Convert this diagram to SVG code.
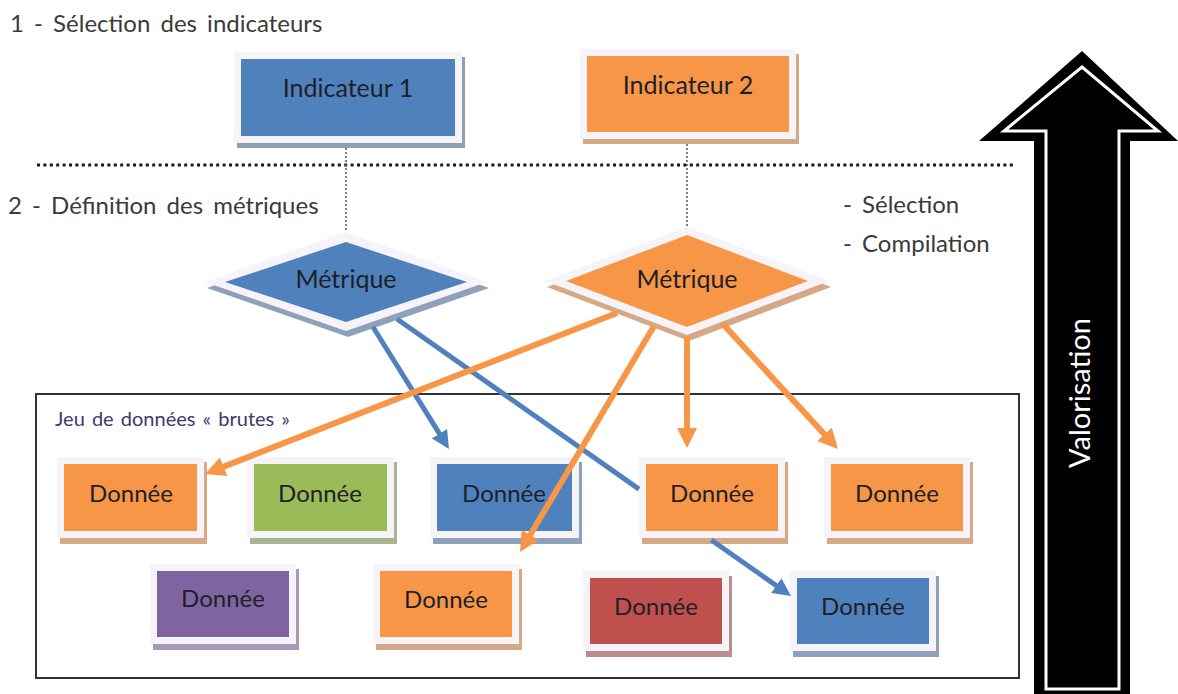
<svg xmlns="http://www.w3.org/2000/svg" width="1178" height="694" viewBox="0 0 1178 694">
  <defs>
    <style>
      .txt { font-family: Lato, "Open Sans", "Liberation Sans", sans-serif; }
      .head { font-size: 24px; fill: #3a3a3a; word-spacing: 4px; }
      .lbl { font-size: 25px; fill: #1f1f28; text-anchor: middle; }
      .dlbl { font-size: 24px; fill: #1f1f28; text-anchor: middle; }
      .frame { fill: #f7f4f9; }
      .sh-blue { fill: #8fa0b9; }
      .sh-orange { fill: #d6a886; }
      .sh-green { fill: #a9b592; }
      .sh-purple { fill: #a799b9; }
      .sh-red { fill: #ba8e8d; }
      .c-blue { fill: #4f81bd; }
      .c-orange { fill: #f79646; }
      .c-green { fill: #9bbb59; }
      .c-purple { fill: #8064a2; }
      .c-red { fill: #c0504d; }
      .link-o { stroke: #f79646; stroke-width: 6; fill: none; marker-end: url(#head-o); }
      .link-b { stroke: #4f81bd; stroke-width: 5; fill: none; }
      .dotv { stroke: #555; stroke-width: 1.5; stroke-dasharray: 2 2; }
    </style>
    <marker id="head-o" viewBox="0 0 20 20" refX="2" refY="10" markerWidth="20" markerHeight="20" markerUnits="userSpaceOnUse" orient="auto">
      <path d="M0,0 L20,10 L0,20 Z" fill="#f79646"/>
    </marker>
    <marker id="head-b" viewBox="0 0 18 18" refX="2" refY="9" markerWidth="18" markerHeight="18" markerUnits="userSpaceOnUse" orient="auto">
      <path d="M0,0 L18,9 L0,18 Z" fill="#4f81bd"/>
    </marker>
  </defs>

  <rect width="1178" height="694" fill="#ffffff"/>

  <!-- section headings -->
  <text class="txt head" x="10" y="32">1 - Sélection des indicateurs</text>
  <text class="txt head" x="8" y="214">2 - Définition des métriques</text>
  <text class="txt head" x="843" y="213">- Sélection</text>
  <text class="txt head" x="843" y="252">- Compilation</text>

  <!-- separator between the two levels -->
  <line x1="37" y1="165" x2="1015" y2="165" stroke="#1a1a1a" stroke-width="3" stroke-dasharray="3 3.4"/>

  <!-- raw data frame -->
  <rect x="36" y="394" width="983" height="284" fill="none" stroke="#333" stroke-width="2"/>
  <text class="txt" x="55" y="426" font-size="20" word-spacing="2" fill="#43386a">Jeu de données « brutes »</text>

  <!-- upward arrow -->
  <g id="valorisation">
    <path d="M1082,51 L1178,141 L1130,141 L1130,696 L1034,696 L1034,141 L979,141 Z" fill="#000"/>
    <path d="M1082,67 L1158,131 L1119,131 L1119,689 L1046,689 L1046,131 L1004,131 Z" fill="#000" stroke="#fff" stroke-width="3"/>
    <text class="txt" transform="translate(1090,393) rotate(-90)" font-size="29" fill="#fff" text-anchor="middle">Valorisation</text>
  </g>

  <!-- indicator-to-metric dotted links -->
  <g id="dotted-links">
    <line class="dotv" x1="346" y1="144" x2="346" y2="232"/>
    <line class="dotv" x1="687" y1="140" x2="687" y2="227"/>
  </g>

  <!-- indicators -->
  <g id="ind1">
    <rect class="sh-blue" x="237" y="57" width="228" height="91"/>
    <rect class="frame" x="234" y="52" width="228" height="91"/>
    <rect class="c-blue" x="241" y="59" width="214" height="77"/>
    <text class="txt lbl" x="348" y="97">Indicateur 1</text>
  </g>
  <g id="ind2">
    <rect class="sh-orange" x="583" y="54" width="216" height="90"/>
    <rect class="frame" x="580" y="49" width="216" height="90"/>
    <rect class="c-orange" x="587" y="56" width="202" height="76"/>
    <text class="txt lbl" x="688" y="94">Indicateur 2</text>
  </g>

  <!-- metrics -->
  <g id="met1">
    <polygon class="sh-blue" points="348,238 489,288 348,337 207,288"/>
    <polygon class="frame" points="346,232 487,282 346,331 205,282"/>
    <polygon class="c-blue" points="346,242 467,282 346,322 225,282"/>
    <text class="txt lbl" x="346" y="288">Métrique</text>
  </g>
  <g id="met2">
    <polygon class="sh-orange" points="689,233 831,287 689,341 547,287"/>
    <polygon class="frame" points="687,227 829,281 687,335 545,281"/>
    <polygon class="c-orange" points="687,235 808,281 687,327 566,281"/>
    <text class="txt lbl" x="687" y="288">Métrique</text>
  </g>

  <!-- data items -->
  <g id="d1">
    <rect class="sh-orange" x="60" y="462" width="147" height="82"/>
    <rect class="frame" x="57" y="457" width="147" height="81"/>
    <rect class="c-orange" x="64" y="464" width="133" height="67"/>
    <text class="txt dlbl" x="131" y="502">Donnée</text>
  </g>
  <g id="d2">
    <rect class="sh-green" x="250" y="462" width="147" height="82"/>
    <rect class="frame" x="247" y="457" width="147" height="81"/>
    <rect class="c-green" x="254" y="464" width="133" height="67"/>
    <text class="txt dlbl" x="320" y="502">Donnée</text>
  </g>
  <g id="d3">
    <rect class="sh-blue" x="433" y="462" width="149" height="82"/>
    <rect class="frame" x="430" y="457" width="149" height="81"/>
    <rect class="c-blue" x="437" y="464" width="135" height="67"/>
    <text class="txt dlbl" x="504" y="502">Donnée</text>
  </g>
  <g id="d4">
    <rect class="sh-orange" x="642" y="462" width="146" height="82"/>
    <rect class="frame" x="639" y="457" width="146" height="81"/>
    <rect class="c-orange" x="646" y="464" width="132" height="67"/>
    <text class="txt dlbl" x="712" y="502">Donnée</text>
  </g>
  <g id="d5">
    <rect class="sh-orange" x="827" y="462" width="146" height="82"/>
    <rect class="frame" x="824" y="457" width="146" height="81"/>
    <rect class="c-orange" x="831" y="464" width="132" height="67"/>
    <text class="txt dlbl" x="897" y="502">Donnée</text>
  </g>
  <g id="d6">
    <rect class="sh-purple" x="153" y="569" width="146" height="81"/>
    <rect class="frame" x="150" y="564" width="146" height="80"/>
    <rect class="c-purple" x="157" y="571" width="132" height="66"/>
    <text class="txt dlbl" x="223" y="607">Donnée</text>
  </g>
  <g id="d7">
    <rect class="sh-orange" x="376" y="569" width="146" height="81"/>
    <rect class="frame" x="373" y="564" width="146" height="80"/>
    <rect class="c-orange" x="380" y="571" width="132" height="66"/>
    <text class="txt dlbl" x="446" y="608">Donnée</text>
  </g>
  <g id="d8">
    <rect class="sh-red" x="586" y="576" width="146" height="81"/>
    <rect class="frame" x="583" y="571" width="146" height="80"/>
    <rect class="c-red" x="590" y="578" width="132" height="66"/>
    <text class="txt dlbl" x="656" y="615">Donnée</text>
  </g>
  <g id="d9">
    <rect class="sh-blue" x="793" y="576" width="146" height="81"/>
    <rect class="frame" x="790" y="571" width="146" height="80"/>
    <rect class="c-blue" x="797" y="578" width="132" height="66"/>
    <text class="txt dlbl" x="863" y="615">Donnée</text>
  </g>

  <!-- metric-to-data connectors -->
  <g id="connectors">
    <line class="link-b" x1="373" y1="327" x2="440.5" y2="435.4" marker-end="url(#head-b)"/>
    <!-- this link runs beneath the item at (639,457), so it is drawn in two parts -->
    <line class="link-b" x1="397" y1="319" x2="639" y2="489.1"/>
    <line class="link-b" x1="711.3" y1="540" x2="777.9" y2="586.8" marker-end="url(#head-b)"/>
    <line class="link-o" x1="617" y1="313" x2="221.8" y2="467.4"/>
    <line class="link-o" x1="654" y1="326" x2="529.2" y2="536.5"/>
    <line class="link-o" x1="687" y1="336" x2="687" y2="430"/>
    <line class="link-o" x1="722" y1="323" x2="825.8" y2="435.8"/>
  </g>
</svg>
